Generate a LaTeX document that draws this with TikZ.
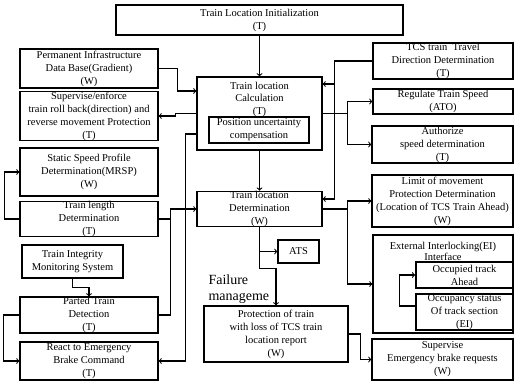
\documentclass[tikz,border=0pt]{standalone}
\usepackage{fontspec}
\setmainfont{Liberation Serif}
\usetikzlibrary{arrows,positioning}

\begin{document}
\begin{tikzpicture}[x=1pt,y=-1pt,font=\fontsize{10.5}{13}\selectfont,
      box/.style={draw,line width=1.1pt,inner sep=0pt,align=center},
      tbox/.style={box,line width=1.7pt},
      trans/.style={->,>=to,line width=1.1pt},
      line/.style={line width=1.1pt},
      ]
      \useasboundingbox (0,0) rectangle (515,383);
      % left column
      \node (init) at (259.5,20) [tbox,minimum width=287pt,minimum height=30pt] {Train Location Initialization\\(T)};
      \node (pid) at (89,68.5) [box,minimum width=138pt,minimum height=39pt] {Permanent Infrastructure\\Data Base(Gradient)\\(W)};
      \node (sup) at (89,116) [box,minimum width=138pt,minimum height=48pt] {Supervise/enforce\\train roll back(direction) and\\reverse movement Protection\\(T)};
      \node (mrsp) at (89,172) [box,minimum width=138pt,minimum height=48pt] {Static Speed Profile\\Determination(MRSP)\\(W)};
      \node (tlen) at (89,219) [box,minimum width=138pt,minimum height=34pt] {Train length\\Determination\\(T)};
      \node (tims) at (72.5,261.5) [tbox,minimum width=101pt,minimum height=33pt] {Train Integrity\\Monitoring System};
      \node (ptd) at (89,315) [box,minimum width=138pt,minimum height=36pt] {Parted Train\\Detection\\(T)};
      \node (react) at (89,361) [box,minimum width=138pt,minimum height=38pt] {React to Emergency\\Brake Command\\(T)};

      % middle column
      \node (calc) at (259.5,113.5) [box,minimum width=125pt,minimum height=73pt] {};
      \node (calclbl) [align=center,below=2pt of calc.north,font=\fontsize{10.5}{12.5}\selectfont] {Train location\\Calculation\\(T)};
      \node (puc) at (259,130) [tbox,minimum width=100pt,minimum height=26pt] {Position uncertainty\\compensation};
      \node (tld) at (259.5,209) [box,minimum width=125pt,minimum height=34pt] {Train location\\Determination\\(W)};
      \node (ats) at (298.5,251.5) [box,minimum width=41pt,minimum height=23pt] {ATS};
      \node (fail) at (205,289) [anchor=west,align=left,font=\fontsize{14}{16}\selectfont] {Failure\\manageme};
      \node (prot) at (276,334) [box,minimum width=144pt,minimum height=56pt] {Protection of train\\with loss of TCS train\\location report\\(W)};

      % right column
      \node (tcs) at (443,61) [box,minimum width=140pt,minimum height=36pt] {TCS train\ \ Travel\\Direction Determination\\(T)};
      \node (rts) at (443,101.5) [box,minimum width=140pt,minimum height=25pt] {Regulate Train Speed\\(ATO)};
      \node (asd) at (442.5,144.5) [box,minimum width=141pt,minimum height=37pt] {Authorize\\speed determination\\(T)};
      \node (lmp) at (442.5,201) [box,minimum width=141pt,minimum height=52pt] {Limit of movement\\Protection Determination\\(Location of TCS Train Ahead)\\(W)};
      \node (eii) at (443,284) [box,minimum width=140pt,minimum height=98pt] {};
      \node (eiilbl) [align=center,below=4pt of eii.north,font=\fontsize{10.5}{11.5}\selectfont] {External Interlocking(EI)\\Interface};
      \node (ota) at (464.5,275) [tbox,minimum width=97pt,minimum height=26pt] {Occupied track\\Ahead};
      \node (ots) at (464.5,312) [tbox,minimum width=97pt,minimum height=36pt] {Occupancy status\\Of track section\\(EI)};
      \node (sebr) at (442.5,359.5) [box,minimum width=141pt,minimum height=41pt] {Supervise\\Emergency brake requests\\(W)};

      % connectors
      \draw [trans] (init) -- (calc);
      \draw [trans] (calc) -- (tld);
      \draw [trans] (pid.east) -- ++(19,0) |- ([yshift=22.5pt]calc.west);
      \draw [trans] (calc.west) -- ++(-21,0) |- (sup.east);
      \draw [trans] ([yshift=-20.5pt]calc.west) -- ++(-11,0) |- (react.east);
      \draw [trans] (tlen.east) -- ++(12,0) |- (tld.west);
      \draw [line] (ptd.east) -| ([xshift=12pt]tlen.east);
      \draw [trans] (tlen.west) -- ++(-15,0) |- (mrsp.west);
      \draw [trans] (tims.south) -- ++(0,9) -| (ptd.north);
      \draw [trans] (ptd.west) -- ++(-16,0) |- (react.west);
      \draw [trans] (tld.south) |- (ats.west);
      \draw [trans] (tld.south) -- ++(0,41) -| (prot.north);
      \draw [trans] (prot.east) -- ++(12,0) |- (sebr.west);
      \draw [trans] (tcs.west) -- ++(-38,0) |- ([yshift=29.5pt]calc.east);
      \draw [trans] ([xshift=-38pt]tcs.west) |- ([yshift=10pt]tld.east);
      \draw [trans] (calc.east) -- ++(25,0) |- (rts.west);
      \draw [trans] (calc.east) -- ++(25,0) |- (asd.west);
      \draw [trans] (tld.east) -- ++(25,0) |- (lmp.west);
      \draw [trans] (tld.east) -- ++(25,0) |- (eii.west);
      \draw [trans] ([yshift=6pt]ots.west) -- ++(-16,0) |- (ota.west);
\end{tikzpicture}
\end{document}
